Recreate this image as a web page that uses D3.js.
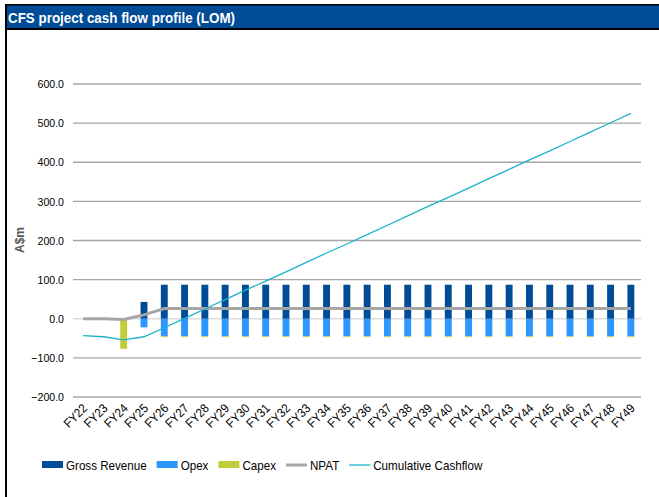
<!DOCTYPE html>
<html>
<head>
<meta charset="utf-8">
<script src="https://cdn.jsdelivr.net/npm/d3@7"></script>
<style>
  body { margin: 0; background: #fff; }
  text { font-family: "Liberation Sans", Arial, sans-serif; }
</style>
</head>
<body>
<div id="chart"></div>
<script>
var years = ["FY22","FY23","FY24","FY25","FY26","FY27","FY28","FY29","FY30","FY31","FY32","FY33","FY34","FY35",
  "FY36","FY37","FY38","FY39","FY40","FY41","FY42","FY43","FY44","FY45","FY46","FY47","FY48","FY49"];
var revenue = [0,0,0,43,87,87,87,87,87,87,87,87,87,87,87,87,87,87,87,87,87,87,87,87,87,87,87,87];
var opex = [0,0,0,-22,-45,-45,-45,-45,-45,-45,-45,-45,-45,-45,-45,-45,-45,-45,-45,-45,-45,-45,-45,-45,-45,-45,-45,-45];
var capex = [0,0,-77,0,-2,-2,-2,-2,-2,-2,-2,-2,-2,-2,-2,-2,-2,-2,-2,-2,-2,-2,-2,-2,-2,-2,-2,-2];
var npat = [0,0,-2,10,26,26,26,26,26,26,26,26,26,26,26,26,26,26,26,26,26,26,26,26,26,26,26,26];
var cumulative = [-43,-46,-54,-46,-23,1,25,49,73,96,120,144,168,191,215,239,263,287,310,334,358,382,406,429,453,477,501,525];
var yTicks = [-200,-100,0,100,200,300,400,500,600];

var svgWidth = 659, svgHeight = 497;
var svg = d3.select("#chart").append("svg")
  .attr("width", svgWidth)
  .attr("height", svgHeight);

// frame + title bar
svg.append("rect").attr("x", 5).attr("y", 4).attr("width", 654).attr("height", 26).attr("fill", "#000");
svg.append("rect").attr("x", 6.5).attr("y", 5.5).attr("width", 653).attr("height", 22.5).attr("fill", "#004C97");
svg.append("rect").attr("x", 5).attr("y", 4).attr("width", 2).attr("height", 493).attr("fill", "#000");
svg.append("text")
  .attr("x", 8).attr("y", 22.5)
  .attr("fill", "#fff")
  .attr("textLength", 227)
  .attr("lengthAdjust", "spacingAndGlyphs")
  .style("font-size", "15.5px")
  .style("font-weight", "bold")
  .text("CFS project cash flow profile (LOM)");

var x = d3.scaleBand().domain(years).range([73, 641]).paddingInner(0.66).paddingOuter(0.33);
var y = d3.scaleLinear().domain([-200, 600]).range([397, 84]);

// gridlines
svg.append("g").selectAll("line")
  .data(yTicks)
  .enter().append("line")
  .attr("x1", 73).attr("x2", 641)
  .attr("y1", d => y(d)).attr("y2", d => y(d))
  .attr("stroke", d => d === 0 ? "#dcdcdc" : "#a6a6a6")
  .attr("stroke-width", 1.3);

// y axis labels
var leftAxis = d3.axisLeft(y).tickValues(yTicks).tickFormat(d3.format(".1f")).tickSize(0).tickPadding(9);
var ya = svg.append("g").attr("transform", "translate(73,0)").call(leftAxis);
ya.select(".domain").remove();
ya.selectAll("text").style("font-size", "11.5px").attr("fill", "#000").style("font-family", "Liberation Sans, Arial, sans-serif")
  .each(function () {
    var w = this.getComputedTextLength();
    d3.select(this).attr("textLength", w * 0.92).attr("lengthAdjust", "spacingAndGlyphs");
  });

svg.append("text")
  .attr("transform", "translate(24,240) rotate(-90)")
  .attr("text-anchor", "middle")
  .attr("fill", "#595959")
  .style("font-size", "12px")
  .style("font-weight", "bold")
  .text("A$m");

// x axis labels
var bottomAxis = d3.axisBottom(x).tickSize(0).tickPadding(0);
var xa = svg.append("g").attr("transform", "translate(0,397)").call(bottomAxis);
xa.select(".domain").remove();
xa.selectAll("text")
  .style("font-size", "12.5px")
  .style("font-family", "Liberation Sans, Arial, sans-serif")
  .attr("fill", "#000")
  .attr("text-anchor", "end")
  .attr("dy", null)
  .attr("transform", "translate(5,12) rotate(-45)")
  .each(function () {
    var w = this.getComputedTextLength();
    d3.select(this).attr("textLength", w * 0.92).attr("lengthAdjust", "spacingAndGlyphs");
  });

// bars
var bw = x.bandwidth();
var bars = svg.append("g");
bars.selectAll(".rev").data(years).enter().append("rect")
  .attr("x", d => x(d)).attr("width", bw)
  .attr("y", (d, i) => y(revenue[i]))
  .attr("height", (d, i) => y(0) - y(revenue[i]))
  .attr("fill", "#004C97");
bars.selectAll(".opex").data(years).enter().append("rect")
  .attr("x", d => x(d)).attr("width", bw)
  .attr("y", y(0))
  .attr("height", (d, i) => y(opex[i]) - y(0))
  .attr("fill", "#2E96FF");
bars.selectAll(".capex").data(years).enter().append("rect")
  .attr("x", d => x(d)).attr("width", bw)
  .attr("y", (d, i) => y(opex[i]))
  .attr("height", (d, i) => y(opex[i] + capex[i]) - y(opex[i]))
  .attr("fill", "#C3CD3B");

// lines
var cx = d => x(d) + bw / 2;
var seriesLine = d3.line().x((d, i) => cx(years[i])).y(d => y(d));
svg.append("path").datum(npat)
  .attr("d", seriesLine)
  .attr("fill", "none")
  .attr("stroke", "#A6A6A6")
  .attr("stroke-width", 3);
svg.append("path").datum(cumulative)
  .attr("d", seriesLine)
  .attr("fill", "none")
  .attr("stroke", "#1AB3CC")
  .attr("stroke-width", 1.3);

// legend
var legendItems = [
  { name: "Gross Revenue", type: "rect", color: "#004C97" },
  { name: "Opex", type: "rect", color: "#2E96FF" },
  { name: "Capex", type: "rect", color: "#C3CD3B" },
  { name: "NPAT", type: "line", color: "#A6A6A6", w: 3 },
  { name: "Cumulative Cashflow", type: "line", color: "#1AB3CC", w: 1.3 }
];
var lx = 42, ly = 465;
var legend = svg.append("g");
legendItems.forEach(function (it) {
  if (it.type === "rect") {
    legend.append("rect").attr("x", lx).attr("y", ly - 4).attr("width", 21).attr("height", 7).attr("fill", it.color);
  } else {
    legend.append("line").attr("x1", lx).attr("x2", lx + 21).attr("y1", ly).attr("y2", ly)
      .attr("stroke", it.color).attr("stroke-width", it.w);
  }
  var t = legend.append("text")
    .attr("x", lx + 24).attr("y", ly + 5)
    .style("font-size", "13.5px")
    .attr("fill", "#000")
    .text(it.name);
  var w = t.node().getComputedTextLength() * 0.86;
  t.attr("textLength", w).attr("lengthAdjust", "spacingAndGlyphs");
  lx += 24 + w + 10;
});
</script>
</body>
</html>
